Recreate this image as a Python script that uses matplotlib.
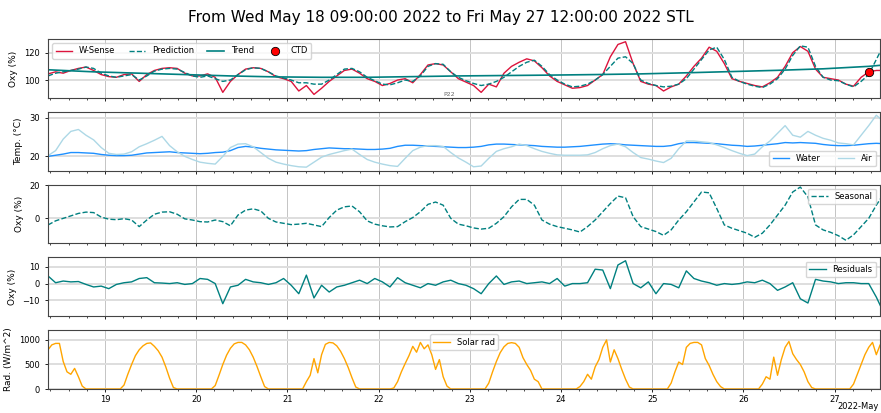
import pandas as pd
import matplotlib.pyplot as plt
import matplotlib.dates as mdates
from matplotlib.ticker import MultipleLocator, AutoMinorLocator

# 2-hourly samples from 2022-05-18 09:00
times = pd.date_range("2022-05-18 09:00", periods=111, freq="2h")

wsense = [104.5, 106, 105, 107, 108.5, 109.5, 107, 104, 102.5, 102,
          104, 104.5, 99, 104, 107, 108.5, 109, 108.5, 105, 103,
          103, 104.5, 102, 91, 99, 104, 108, 109, 108.5, 106,
          102.5, 101, 99, 92, 96, 89.5, 94, 99, 103, 107,
          108, 105, 101, 99, 96, 97.5, 100, 101, 98, 104,
          111, 112, 111, 106, 101, 98.5, 96, 91, 97, 95,
          105, 110, 113, 115.5, 114, 109, 103, 99, 96.5, 94,
          94.5, 96, 100, 104, 117, 126, 128, 112, 99, 97,
          96, 92, 95, 97, 103, 110, 116, 124, 121, 112,
          101, 99, 97.5, 96, 95, 98, 102, 110, 120, 124.5,
          121, 108, 102, 101, 100, 97, 95.5, 102, 106, 107, 107]

prediction = [103, 105, 106, 107, 108, 109.5, 108.5, 105, 103, 102,
              103, 104, 100, 103, 106.5, 108, 108.5, 108, 105.5, 103,
              102, 103, 101, 99, 100, 104, 107.5, 109, 108.5, 106,
              103, 101.5, 100, 98, 98, 97, 97, 100, 104, 108,
              108.5, 106, 102, 99.5, 97, 96.5, 98, 100, 99, 103,
              110, 112, 111.5, 106, 102, 99.5, 97.5, 96, 97, 99,
              102, 106, 110, 113, 114.5, 110, 104, 100, 97, 95,
              95.5, 97, 100, 104, 110, 116, 117, 112, 100, 97.5,
              96, 95, 95.5, 97, 101, 108, 115, 122, 124, 115,
              102, 99, 97, 95.5, 94.5, 97, 101, 108, 118, 125,
              124, 110, 102, 100, 99.5, 97, 95, 99, 104, 115, 126]

# trend every 12 h
trend_times = pd.date_range("2022-05-18 09:00", periods=20, freq="12h")
trend = [107.5, 106, 105, 104, 103, 102.3, 102, 102, 102.5, 103,
         103.3, 103.6, 104, 104.5, 105.3, 106.2, 107.1, 108.2, 110, 113]

ctd_time = [pd.Timestamp("2022-05-27 09:00")]
ctd = [106]

water = [20.0, 20.3, 20.6, 21.0, 21.0, 20.9, 20.8, 20.5, 20.3, 20.2,
         20.2, 20.3, 20.6, 20.9, 21.0, 21.1, 21.2, 21.0, 20.9, 20.8,
         20.7, 20.8, 21.0, 21.1, 21.5, 22.3, 22.6, 22.4, 22.1, 21.9,
         21.7, 21.6, 21.5, 21.4, 21.5, 21.8, 22.0, 22.2, 22.1, 22.0,
         22.0, 21.9, 21.8, 21.8, 21.9, 22.1, 22.6, 22.9, 22.9, 22.8,
         22.7, 22.6, 22.5, 22.4, 22.3, 22.3, 22.4, 22.6, 23.0, 23.2,
         23.2, 23.1, 23.0, 22.9, 22.8, 22.6, 22.5, 22.4, 22.4, 22.5,
         22.6, 22.8, 23.0, 23.2, 23.3, 23.2, 23.0, 22.9, 22.8, 22.7,
         22.6, 22.6, 22.8, 23.3, 23.6, 23.6, 23.5, 23.4, 23.3, 23.1,
         22.9, 22.8, 22.6, 22.7, 22.9, 23.1, 23.3, 23.6, 23.5, 23.6,
         23.5, 23.4, 23.1, 22.9, 22.8, 22.8, 22.9, 23.1, 23.3, 23.4, 23.3]

air = [20.2, 21.5, 24.5, 26.5, 27, 25.5, 24.3, 22.3, 20.8, 20.5,
       20.6, 21.2, 22.5, 23.3, 24.2, 25.2, 22.8, 21.2, 20, 19.2,
       18.5, 18.2, 18, 20, 22.3, 23.2, 23.3, 22.5, 21, 19.5,
       18.5, 18, 17.6, 17.3, 17.2, 18.5, 19.8, 20.5, 21, 21.5,
       21.9, 20.5, 19.2, 18.5, 18, 17.6, 17.4, 19.5, 21.5, 22.4,
       22.8, 22.8, 22.6, 21, 19.6, 18.5, 17.3, 17.5, 19.5, 21.3,
       22, 22.5, 23.2, 22.8, 22, 21.3, 20.8, 20.4, 20.3, 20.3,
       20.3, 20.4, 21, 22, 22.8, 23.2, 22.5, 21, 19.7, 19.3,
       18.8, 18.4, 19.5, 22, 24, 24, 23.8, 23.6, 23, 22.3,
       21.5, 20.8, 20.2, 20.6, 22.5, 24, 26, 28, 25.5, 25,
       26.5, 25.5, 24.7, 24.2, 23.5, 23.3, 23, 25.5, 28, 30.7, 29]

seasonal = [-4, -1.5, 0, 1.5, 3, 3.8, 3.5, 0.8, -0.5, -0.8,
            -0.2, -1, -5, -1, 2.5, 3.8, 4, 2.5, -0.3, -1,
            -2, -2.2, -1, -2, -4.5, 2, 5, 5.8, 4.5, 0,
            -2.2, -3, -3.8, -3.5, -3, -4, -5, 0.5, 5, 7,
            7.5, 4, -1.5, -3.5, -4.5, -5.2, -5, -2, 0.5, 4,
            8.5, 9.9, 8, 0, -3.5, -4.5, -5.8, -6.5, -6, -3,
            1, 7, 11.5, 11.5, 8, -1, -3.5, -5, -6, -7,
            -8.3, -5, -1, 4, 9, 13.5, 12.5, 1, -5, -6.5,
            -8, -10.3, -7, -1, 4, 10, 16, 15.5, 6, -4,
            -6, -7.5, -9, -11.5, -9, -4, 2, 8, 16, 19,
            13, -4, -7, -8.5, -10.5, -13.3, -10, -5, 0, 8, 15]

residuals = [4.5, 0.5, 1.5, 1, 1.2, -0.5, -2, -1.5, -3, -0.5,
             0.5, 1, 3, 3.5, 0.5, 0.3, 0, 0.5, -0.5, 0,
             3, 2.5, 0, -11.9, -2, -1, 2.5, 1, 0.5, -0.5,
             0.5, 3, -1, -6, 5, -8.5, -1, -5, -2, -1,
             0.5, 2, 0, 3, 1, -2, 3.5, 0.5, -1, -2.5,
             0, -1, 1, 2, 0, -1, -3, -6, 0, 4.5,
             -0.5, 1, 1.5, 0, 0.5, 1, 0, 3, -1.5, 0,
             0, 0.5, 8.5, 8, -3, 11, 13.5, 0, -2.5, 1,
             -6, 0, -0.5, -2.5, 7.5, 3, 1.5, 0.5, -1, 0,
             -0.5, 0, 1, 0.5, 2, 0, -4, -2, 0.5, -9,
             -11.5, 2.5, 1.5, 1, 0, 0.5, 0.5, 0, 0, -8, -17.5]

# hourly solar radiation, one list per day
solar_18 = [800, 900, 930, 930, 560, 350, 300, 420, 250, 60, 0, 0, 0, 0, 0]
solar_19 = [0, 0, 0, 0, 0, 80, 300, 500, 680, 800, 880, 930, 940, 870, 780, 650, 450, 220, 30, 0, 0, 0, 0, 0]
solar_20 = [0, 0, 0, 0, 0, 70, 280, 500, 690, 830, 920, 950, 950, 900, 800, 650, 460, 250, 50, 0, 0, 0, 0, 0]
solar_21 = [0, 0, 0, 0, 0, 150, 280, 620, 330, 700, 910, 950, 940, 880, 770, 620, 440, 230, 40, 0, 0, 0, 0, 0]
solar_22 = [0, 0, 0, 0, 20, 150, 350, 520, 680, 870, 750, 950, 820, 900, 700, 400, 600, 250, 60, 0, 0, 0, 0, 0]
solar_23 = [0, 0, 0, 0, 0, 120, 350, 560, 740, 860, 930, 945, 930, 850, 640, 500, 380, 200, 150, 0, 0, 0, 0, 0]
solar_24 = [0, 0, 0, 0, 0, 50, 150, 300, 200, 450, 600, 850, 1000, 550, 800, 620, 400, 200, 40, 0, 0, 0, 0, 0]
solar_25 = [0, 0, 0, 0, 0, 120, 350, 550, 500, 850, 930, 950, 950, 900, 620, 480, 300, 150, 50, 0, 0, 0, 0, 0]
solar_26 = [0, 0, 0, 0, 0, 100, 250, 200, 650, 280, 600, 850, 970, 720, 600, 500, 350, 150, 30, 0, 0, 0, 0, 0]
solar_27 = [0, 0, 0, 0, 0, 100, 300, 500, 700, 850, 950, 700, 900, 880]
solar = (solar_18 + solar_19 + solar_20 + solar_21 + solar_22 + solar_23
         + solar_24 + solar_25 + solar_26 + solar_27)
solar_times = pd.date_range("2022-05-18 09:00", periods=len(solar), freq="h")

t_start = pd.Timestamp("2022-05-18 09:00")
t_end = pd.Timestamp("2022-05-27 12:00")

fig, axes = plt.subplots(5, 1, figsize=(8.81, 4.13), dpi=100, sharex=True)
fig.subplots_adjust(left=0.0545, right=0.999, top=0.9056, bottom=0.0581, hspace=0.237)
fig.suptitle(f"From {t_start:%a %b %d %H:%M:%S %Y} to {t_end:%a %b %d %H:%M:%S %Y} STL",
             fontsize=11, y=0.975)

ax1, ax2, ax3, ax4, ax5 = axes

# oxygen
ax1.plot(times, wsense, color="crimson", lw=1, label="W-Sense")
ax1.plot(times, prediction, color="teal", lw=1, ls="--", label="Prediction")
ax1.plot(trend_times, trend, color="teal", lw=1.2, label="Trend")
ax1.plot(ctd_time, ctd, "o", color="red", mec="black", mew=0.6, ms=6, label="CTD", ls="none")
ax1.text(pd.Timestamp("2022-05-22 18:30"), 89.5, "P22", fontsize=4.5, color="dimgray",
         ha="center", va="center")
ax1.set_ylim(87, 130)
ax1.yaxis.set_major_locator(MultipleLocator(20))
ax1.set_ylabel("Oxy (%)")
ax1.legend(loc="upper left", ncol=4, fontsize=6, columnspacing=1.6)

# temperature
ax2.plot(times, water, color="dodgerblue", lw=1, label="Water")
ax2.plot(times, air, color="lightblue", lw=1, label="Air")
ax2.set_ylim(16.3, 31.6)
ax2.yaxis.set_major_locator(MultipleLocator(10))
ax2.set_ylabel("Temp. (°C)")
ax2.legend(loc="lower right", ncol=2, fontsize=6)

# seasonal
ax3.plot(times, seasonal, color="teal", lw=1, ls="--", label="Seasonal")
ax3.set_ylim(-15.2, 20.5)
ax3.yaxis.set_major_locator(MultipleLocator(20))
ax3.set_ylabel("Oxy (%)")
ax3.legend(loc="upper right", fontsize=6)

# residuals
ax4.plot(times, residuals, color="teal", lw=1, label="Residuals")
ax4.set_ylim(-19.3, 15.5)
ax4.yaxis.set_major_locator(MultipleLocator(10))
ax4.set_ylabel("Oxy (%)")
ax4.legend(loc="upper right", fontsize=6)

# solar radiation
ax5.plot(solar_times, solar, color="orange", lw=1, label="Solar rad")
ax5.set_ylim(0, 1200)
ax5.yaxis.set_major_locator(MultipleLocator(500))
ax5.set_ylabel("Rad. (W/m^2)")
ax5.legend(loc="upper center", fontsize=6)

locator = mdates.DayLocator()
ax5.xaxis.set_major_locator(locator)
ax5.xaxis.set_major_formatter(mdates.ConciseDateFormatter(locator))
ax5.xaxis.set_minor_locator(AutoMinorLocator(5))
ax5.set_xlim(t_start, t_end)

for ax in axes:
    ax.xaxis.grid(True, color="#c4c4c4", lw=0.7)
    ax.yaxis.grid(True, color="#dedede", lw=1.4)
    ax.set_axisbelow(True)
    ax.tick_params(labelsize=6, length=2.5, width=0.6)
    ax.tick_params(which="minor", length=1.5, width=0.5)
    ax.yaxis.label.set_size(6.5)
    for s in ax.spines.values():
        s.set_color("#444444")
ax5.tick_params(axis="x", pad=1.5)

# month/year offset drawn by hand so it stays inside the figure
ax5.xaxis.get_offset_text().set_visible(False)
fig.text(0.997, 0.015, f"{t_end:%Y-%b}", fontsize=6, ha="right", va="center")

plt.savefig("out.png", dpi=100)
